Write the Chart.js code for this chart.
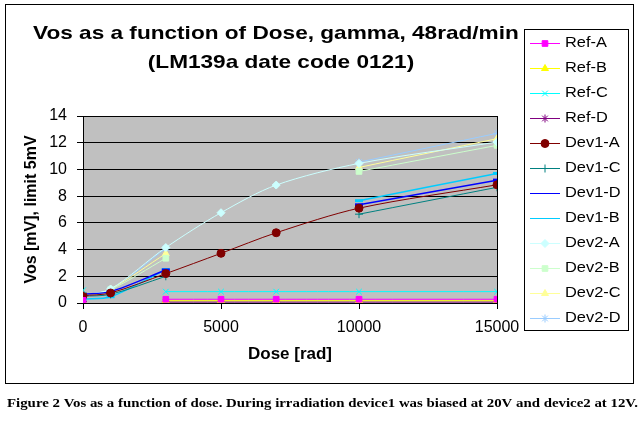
<!DOCTYPE html>
<html>
<head>
<meta charset="utf-8">
<script src="https://cdn.jsdelivr.net/npm/chart.js@4/dist/chart.umd.min.js"></script>
<style>
html,body{margin:0;padding:0;background:#fff;}
#wrap{position:relative;width:644px;height:422px;}
</style>
</head>
<body>
<div id="wrap"><canvas id="c" width="644" height="422"></canvas></div>
<script>
// ---- data ----
const dose = [0, 1000, 3000, 5000, 7000, 10000, 15000];
const refA = [0.2, null, 0.28, 0.28, 0.28, 0.28, 0.28];
const refB = [0.1, null, 0.17, 0.17, 0.17, 0.17, 0.17];
const refC = [0.95, null, 0.85, 0.85, 0.85, 0.85, 0.85];
const refD = [0.1, null, 0.07, 0.07, 0.07, 0.07, 0.07];
const dev1A = [0.55, 0.75, 2.2, 3.72, 5.26, 7.1, 8.85];
const dev1C = [0.5, 0.65, 2.0, null, null, 6.65, 8.66];
const dev1D = [0.65, 0.85, 2.47, null, null, 7.35, 9.2];
const dev1B = [0.3, 0.47, 2.5, null, null, 7.66, 9.7];
const dev2A = [0.6, 1.05, 4.15, 6.76, 8.83, 10.45, 12.05];
const dev2B = [0.45, 1.0, 3.35, null, null, 9.85, 11.8];
const dev2C = [0.47, 1.05, 3.7, null, null, 10.15, 12.3];
const dev2D = [0.6, 1.0, 4.1, null, null, 10.55, 12.7];
const yTicks = [0, 2, 4, 6, 8, 10, 12, 14];
const xTicks = [0, 5000, 10000, 15000];

const seriesNames = ['Ref-A','Ref-B','Ref-C','Ref-D','Dev1-A','Dev1-C','Dev1-D','Dev1-B','Dev2-A','Dev2-B','Dev2-C','Dev2-D'];
const seriesData = [refA, refB, refC, refD, dev1A, dev1C, dev1D, dev1B, dev2A, dev2B, dev2C, dev2D];
const seriesColors = ['#FF00FF','#FFFF00','#00FFFF','#800080','#800000','#008080','#0000FF','#00CCFF','#CCFFFF','#CCFFCC','#FFFF99','#99CCFF'];
const seriesPoints = ['rect','triangle','crossRot','star','circle','cross','line','line','rectRot','rect','triangle','star'];

const datasets = seriesNames.map((n, i) => ({
  label: n,
  data: dose.map((d, j) => ({x: d, y: seriesData[i][j]})),
  borderColor: seriesColors[i],
  backgroundColor: seriesColors[i],
  pointBorderColor: seriesColors[i],
  pointBackgroundColor: seriesColors[i],
  pointStyle: seriesPoints[i],
  pointRadius: 4,
  pointBorderWidth: seriesPoints[i] === 'line' ? 3 : 1,
  borderWidth: (i === 6 || i === 7) ? 1.5 : 1,
  tension: 0.3,
  spanGaps: false,
  fill: false
}));

const FONT = '"Liberation Sans", Arial, sans-serif';
const SX = 1.19; // horizontal stretch of the reference's text

function stretchedText(ctx, text, x, y, align, sx) {
  const w = ctx.measureText(text).width * sx;
  let left = x;
  if (align === 'center') left = x - w / 2;
  else if (align === 'right') left = x - w;
  ctx.save();
  ctx.translate(left, y);
  ctx.scale(sx, 1);
  ctx.textAlign = 'left';
  ctx.fillText(text, 0, 0);
  ctx.restore();
}

const decor = {
  id: 'decor',
  beforeDraw(chart) {
    const {ctx, chartArea: a} = chart;
    ctx.save();
    ctx.fillStyle = '#fff';
    ctx.fillRect(0, 0, chart.width, chart.height);
    ctx.fillStyle = '#C0C0C0';
    ctx.fillRect(a.left, a.top, a.right - a.left, a.bottom - a.top);
    ctx.restore();
  },
  beforeDatasetsDraw(chart) {
    const {ctx, chartArea: a} = chart;
    ctx.save();
    ctx.strokeStyle = '#000';
    ctx.lineWidth = 1;
    ctx.beginPath();
    ctx.moveTo(Math.round(a.right) + 0.5, a.top);
    ctx.lineTo(Math.round(a.right) + 0.5, a.bottom);
    ctx.stroke();
    ctx.restore();
  },
  afterDraw(chart) {
    const ctx = chart.ctx;
    ctx.save();
    // outer border
    ctx.strokeStyle = '#000';
    ctx.lineWidth = 1;
    ctx.strokeRect(5.5, 4.5, 628, 379);
    // title
    ctx.fillStyle = '#000';
    ctx.font = 'bold 19px ' + FONT;
    ctx.textBaseline = 'middle';
    stretchedText(ctx, 'Vos as a function of Dose, gamma, 48rad/min', 33, 34, 'left', SX);
    stretchedText(ctx, '(LM139a date code 0121)', 281, 63, 'center', SX);
    // legend
    ctx.fillStyle = '#fff';
    ctx.fillRect(524, 29, 104, 301);
    ctx.strokeStyle = '#000';
    ctx.lineWidth = 1;
    ctx.strokeRect(524.5, 29.5, 104, 301);
    ctx.font = '14px ' + FONT;
    ctx.textBaseline = 'middle';
    chart.data.datasets.forEach((ds, i) => {
      const y = Math.round(43 + i * 25) + 0.5;
      ctx.strokeStyle = ds.borderColor;
      ctx.lineWidth = 1;
      ctx.beginPath();
      ctx.moveTo(530, y);
      ctx.lineTo(560, y);
      ctx.stroke();
      ctx.fillStyle = ds.borderColor;
      ctx.strokeStyle = ds.borderColor;
      Chart.helpers.drawPoint(ctx, {
        pointStyle: ds.pointStyle, rotation: 0, radius: 4,
        borderWidth: ds.pointStyle === 'line' ? 3 : 1
      }, 545, y);
      ctx.fillStyle = '#000';
      stretchedText(ctx, ds.label, 565, y, 'left', 1.17);
    });
    // caption
    ctx.font = 'bold 13.5px "Liberation Serif", "Times New Roman", serif';
    ctx.fillStyle = '#000';
    ctx.textBaseline = 'middle';
    stretchedText(ctx, 'Figure 2 Vos as a function of dose. During irradiation device1 was biased at 20V and device2 at 12V.', 7, 404, 'left', 1.1);
    ctx.restore();
  }
};

new Chart(document.getElementById('c'), {
  type: 'line',
  data: { datasets },
  options: {
    responsive: false,
    animation: false,
    devicePixelRatio: 1,
    layout: { padding: { top: 116, right: 147, bottom: 57, left: 0 } },
    plugins: { legend: { display: false }, title: { display: false }, tooltip: { enabled: false } },
    scales: {
      x: {
        type: 'linear',
        min: 0, max: 15000,
        afterFit(s) { s.height = 62; },
        afterBuildTicks(s) { s.ticks = xTicks.map(v => ({value: v})); },
        ticks: { color: '#000', font: { family: FONT, size: 16 }, padding: 9, maxRotation: 0,
                 callback: v => String(v) },
        grid: { drawOnChartArea: false, drawTicks: true, tickLength: 6, color: '#000' },
        border: { display: true, color: '#000', width: 1 },
        title: { display: true, text: 'Dose [rad]', color: '#000', font: { family: FONT, size: 17, weight: 'bold' }, padding: { top: 0, bottom: 0 } }
      },
      y: {
        min: 0, max: 14,
        afterFit(s) { s.width = 83; },
        afterBuildTicks(s) { s.ticks = yTicks.map(v => ({value: v})); },
        ticks: { color: '#000', font: { family: FONT, size: 16 }, padding: 10, callback: v => String(v) },
        grid: { drawOnChartArea: true, drawTicks: true, tickLength: 6, color: '#000', lineWidth: 1 },
        border: { display: true, color: '#000', width: 1 },
        title: { display: true, text: 'Vos [mV], limit 5mV', color: '#000', font: { family: FONT, size: 16, weight: 'bold' }, padding: { top: 22, bottom: 0 } }
      }
    }
  },
  plugins: [decor]
});
</script>
</body>
</html>
